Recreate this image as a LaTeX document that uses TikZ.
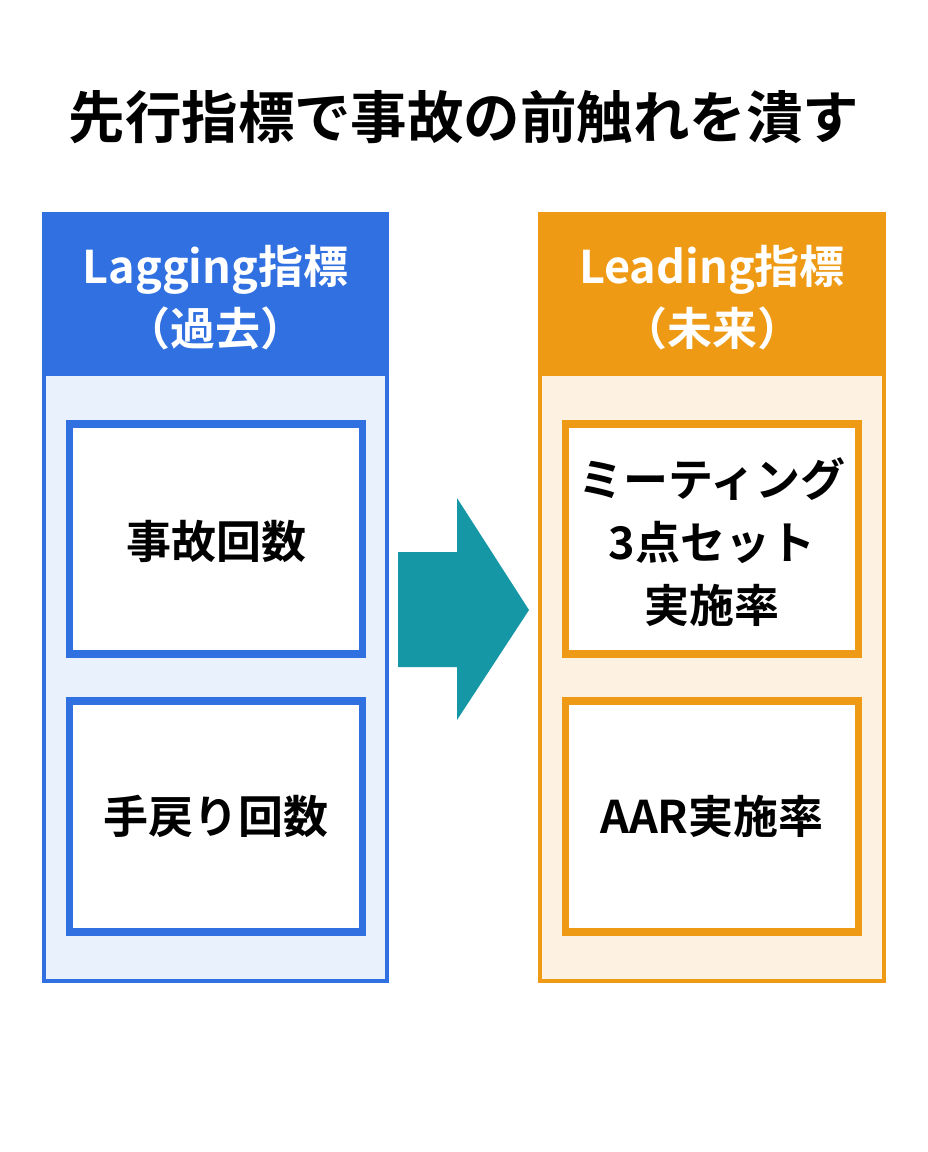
\documentclass[tikz,border=0pt]{standalone}
\usepackage{fontspec}
\setmainfont{Noto Sans CJK JP Bold}
\definecolor{lagblue}{HTML}{3070E0}
\definecolor{lagpale}{HTML}{E9F1FD}
\definecolor{leadorg}{HTML}{EE9A14}
\definecolor{leadpale}{HTML}{FDF2E1}
\definecolor{arrowteal}{HTML}{1597A6}
\begin{document}
\begin{tikzpicture}[x=1pt,y=-1pt,
  hdr/.style={text=white,align=center,font=\fontsize{45}{62}\selectfont},
  itemtext/.style={text=black,align=center,font=\fontsize{45}{63}\selectfont},
  itembox/.style={line width=7.5pt,fill=white}]
\useasboundingbox (0,0) rectangle (928,1152);
\fill[white] (0,0) rectangle (928,1152);
% title
\node[font=\fontsize{56.5}{66}\selectfont] (title) at (464,117) {先行指標で事故の前触れを潰す};
% left panel
\fill[lagpale] (42,212) rectangle (389,983);
\fill[lagblue] (42,212) rectangle (389,376);
\draw[lagblue,line width=4pt] (44,214) rectangle (387,981);
\node[hdr] (laghead) at (215.5,298) {Lagging指標\\（過去）};
\draw[itembox,draw=lagblue] (69.5,424) rectangle (362.5,654);
\node[itemtext] (lag1) at (216,541) {事故回数};
\draw[itembox,draw=lagblue] (69.5,701) rectangle (362.5,932);
\node[itemtext] (lag2) at (216,816) {手戻り回数};
% right panel
\fill[leadpale] (538,212) rectangle (886,983);
\fill[leadorg] (538,212) rectangle (886,376);
\draw[leadorg,line width=4pt] (540,214) rectangle (884,981);
\node[hdr] (leadhead) at (712,298) {Leading指標\\（未来）};
\draw[itembox,draw=leadorg] (565.5,424) rectangle (858.5,654);
\node[itemtext] (lead1) at (712,542) {ミーティング\\3点セット\\実施率};
\draw[itembox,draw=leadorg] (565.5,701) rectangle (858.5,932);
\node[itemtext] (lead2) at (712,816) {AAR実施率};
% arrow
\fill[arrowteal] (398,552) -- (457,552) -- (457,498) -- (529,610) -- (457,720) -- (457,667) -- (398,667) -- cycle;
\end{tikzpicture}
\end{document}
